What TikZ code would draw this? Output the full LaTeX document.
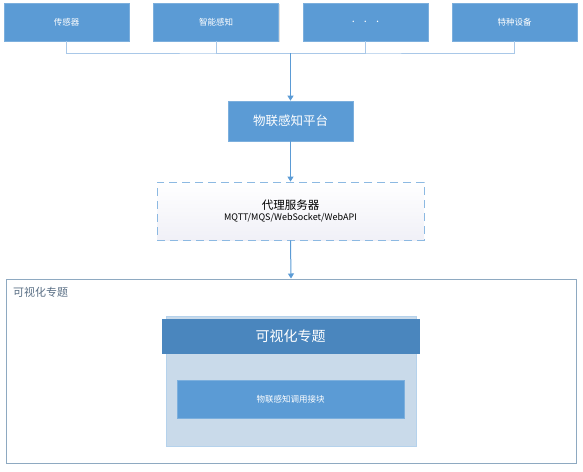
\documentclass[tikz,border=0pt]{standalone}
\usepackage{fontspec}
\setmainfont{Noto Sans CJK SC}
\usepackage{xcolor}
\usepackage{tikz}
\usetikzlibrary{positioning}
\usetikzlibrary{arrows.meta}
\usetikzlibrary{shadows}
\definecolor{boxblue}{HTML}{5B9BD5}
\definecolor{headblue}{HTML}{4A86BE}
\definecolor{panelblue}{HTML}{C9DAEA}
\definecolor{framegray}{HTML}{8EA9C1}
\definecolor{buslight}{HTML}{A9C8E8}
\definecolor{labelgray}{HTML}{5A6F85}

\begin{document}
\begin{tikzpicture}[x=1pt,y=-1pt,
    bluebox/.style={fill=boxblue,draw=boxblue!80!white,line width=0.6pt,text=white,inner sep=0pt,
        drop shadow={opacity=0.25,shadow xshift=1pt,shadow yshift=-1.2pt}},
    devbox/.style={bluebox,minimum width=125pt,minimum height=38pt,font=\fontsize{8.5}{10}\selectfont},
    busline/.style={draw=buslight,line width=1pt},
    flow/.style={draw=boxblue,line width=1pt,-{Triangle[width=6pt,length=5pt]}}]
    \useasboundingbox (0,0) rectangle (583,471);

    % top row
    \node[devbox] (s1) at (66.5,22) {传感器};
    \node[devbox] (s2) at (216,22) {智能感知};
    \node[devbox] (s3) at (365.5,22) {\fontsize{11}{11}\selectfont .\hspace{9pt}.\hspace{9pt}.};
    \node[devbox] (s4) at (514.5,22) {特种设备};
    \coordinate (bus) at (290.5,53);
    \draw[busline] (s1.south) |- (bus) -| (s4.south);
    \draw[busline] (s2.south) |- (bus);
    \draw[busline] (s3.south) |- (bus);

    % platform and proxy
    \node[bluebox,minimum width=125pt,minimum height=40pt,font=\fontsize{12.5}{14}\selectfont] (plat) at (290.5,121) {物联感知平台};
    \node[draw=boxblue!70,dashed,dash pattern=on 8pt off 5pt,line width=0.8pt,top color=white,bottom color=blue!30!gray!9,
        minimum width=267pt,minimum height=58pt,inner sep=0pt,align=center] (proxy) at (290.5,211)
        {{\fontsize{11.5}{14}\selectfont 代理服务器}\\[-1pt]{\fontsize{9}{11}\selectfont MQTT/MQS/WebSocket/WebAPI}};
    \draw[flow] (bus) -- (plat.north);
    \draw[flow] (plat.south) -- (proxy.north);

    % visualisation area
    \node[draw=framegray,line width=1pt,minimum width=570pt,minimum height=184pt,inner sep=0pt] (area) at (291,371) {};
    \node[anchor=north west,text=labelgray,font=\fontsize{11}{12}\selectfont,inner sep=0pt] (areatitle) at (13,287) {可视化专题};
    \draw[flow] (proxy.south) -- (area.north);
    \node[fill=panelblue,draw=boxblue!45,line width=0.6pt,minimum width=250pt,minimum height=130pt,inner sep=0pt,
        drop shadow={opacity=0.2,shadow xshift=1pt,shadow yshift=-1.2pt}] (panel) at (291,381) {};
    \node[bluebox,fill=headblue,draw=headblue,minimum width=257pt,minimum height=34pt,font=\fontsize{14}{16}\selectfont] (head) at (290.5,336) {可视化专题};
    \node[bluebox,minimum width=227pt,minimum height=38pt,font=\fontsize{8.5}{10}\selectfont] (module) at (290.5,399) {物联感知调用接块};
\end{tikzpicture}
\end{document}
